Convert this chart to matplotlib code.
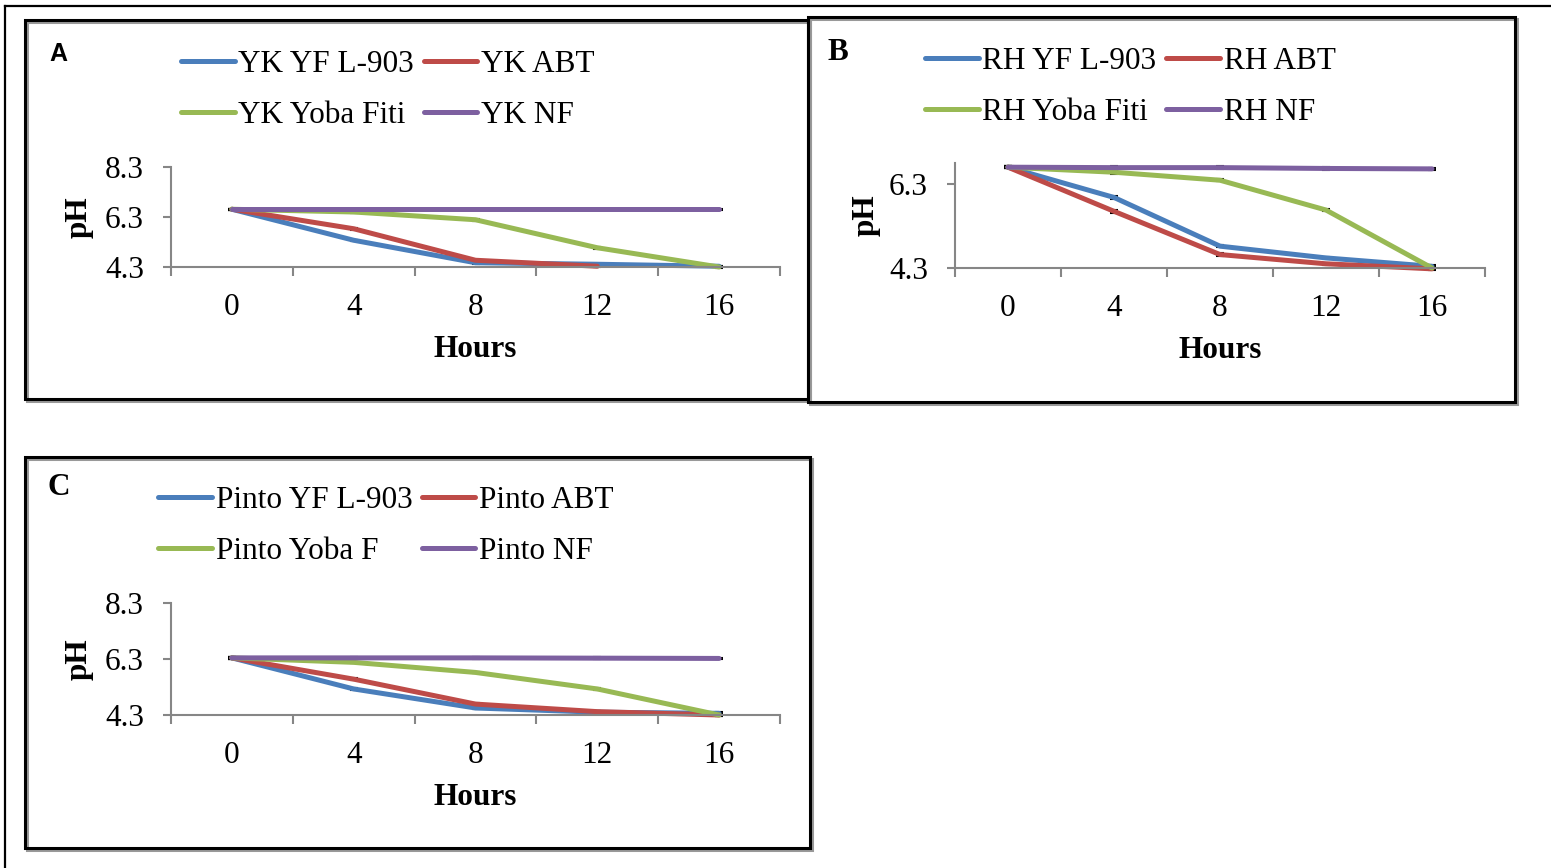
import numpy as np
import matplotlib
matplotlib.use('Agg')
import matplotlib.pyplot as plt
from matplotlib.patches import Rectangle
from matplotlib.lines import Line2D

plt.rcParams['font.family'] = ['Liberation Serif', 'DejaVu Serif']

hours = ['0', '4', '8', '12', '16']
nan = np.nan

# panel A: YK
yk_labels = ['YK YF L-903', 'YK ABT', 'YK Yoba Fiti', 'YK NF']
yk_yf = [6.61, 5.37, 4.47, 4.41, 4.33]
yk_abt = [6.61, 5.83, 4.57, 4.33, nan]
yk_yoba = [6.61, 6.50, 6.19, 5.07, 4.30]
yk_nf = [6.61, 6.61, 6.61, 6.61, 6.61]

# panel B: RH
rh_labels = ['RH YF L-903', 'RH ABT', 'RH Yoba Fiti', 'RH NF']
rh_yf = [6.70, 5.98, 4.82, 4.54, 4.34]
rh_abt = [6.70, 5.65, 4.62, 4.40, 4.28]
rh_yoba = [6.70, 6.58, 6.39, 5.68, 4.30]
rh_nf = [6.70, 6.69, 6.69, 6.67, 6.66]

# panel C: Pinto
pinto_labels = ['Pinto YF L-903', 'Pinto ABT', 'Pinto Yoba F', 'Pinto NF']
pinto_yf = [6.34, 5.23, 4.55, 4.40, 4.36]
pinto_abt = [6.34, 5.58, 4.69, 4.42, 4.30]
pinto_yoba = [6.34, 6.18, 5.82, 5.23, 4.30]
pinto_nf = [6.34, 6.34, 6.34, 6.33, 6.32]

err = 0.03
colors = ['#4A7EBB', '#BE4B48', '#98B954', '#7D60A0']
gray = '#868686'
FS = 22.5

W, H = 1551, 868
fig = plt.figure(figsize=(W / 100, H / 100), dpi=100)


def px_rect(x0, y0, x1, y1):
    # pixel box (top-left origin) -> figure fraction
    return [x0 / W, (H - y1) / H, (x1 - x0) / W, (y1 - y0) / H]


def frame(x0, y0, x1, y1):
    sh = Rectangle(((x0 + 2) / W, (H - y1 - 2) / H), (x1 - x0) / W, (y1 - y0) / H,
                   transform=fig.transFigure, fill=False, ec='#999999', lw=2.2)
    fig.add_artist(sh)
    r = Rectangle((x0 / W, (H - y1) / H), (x1 - x0) / W, (y1 - y0) / H,
                  transform=fig.transFigure, fill=False, ec='black', lw=2.2)
    fig.add_artist(r)


def panel(box, ylim, yticks, series, labels, leg_xy, ylab_x):
    ax = fig.add_axes(px_rect(*box))
    x = np.arange(len(hours))
    handles = []
    for s, c in zip(series, colors):
        ax.errorbar(x, s, yerr=err, fmt='none', ecolor='black', elinewidth=1,
                    capsize=3, capthick=1.5, zorder=1, clip_on=False)
        h, = ax.plot(x, s, color=c, lw=3.6, solid_capstyle='round', zorder=2, clip_on=False)
        handles.append(h)
    ax.set_xlim(-0.5, len(hours) - 0.5)
    ax.set_ylim(*ylim)
    ax.set_yticks(yticks)
    ax.set_yticklabels(['%.1f' % t for t in yticks])
    ax.set_xticks(x)
    ax.set_xticklabels(hours)
    ax.set_xticks(np.arange(-0.5, len(hours), 1), minor=True)
    for o in ['top', 'right']:
        ax.spines[o].set_visible(False)
    for o in ['left', 'bottom']:
        ax.spines[o].set_color(gray)
        ax.spines[o].set_linewidth(1.5)
    ax.tick_params(axis='x', which='major', length=0, pad=19, labelsize=FS)
    ax.tick_params(axis='x', which='minor', length=6.5, width=1.5, color=gray)
    ax.tick_params(axis='y', length=5.5, width=1.5, color=gray, pad=14, labelsize=FS)
    ax.set_xlabel('Hours', fontsize=FS, fontweight='bold', labelpad=9)
    ax.set_ylabel('pH', fontsize=FS, fontweight='bold')
    y0, y1 = box[1], box[3]
    ax.yaxis.set_label_coords(ylab_x / W, 1 - ((y0 + y1) / 2) / H, transform=fig.transFigure)
    # legend fills by column, so order it to read row by row
    order = [0, 2, 1, 3]
    leg = ax.legend([handles[i] for i in order], [labels[i] for i in order], ncol=2,
                    loc='center left', bbox_to_anchor=(leg_xy[0] / W, 1 - leg_xy[1] / H),
                    bbox_transform=fig.transFigure, frameon=False, fontsize=FS,
                    handlelength=1.72, handletextpad=0.12, columnspacing=0.3,
                    labelspacing=0.72, borderpad=0, borderaxespad=0)
    for ln in leg.get_lines():
        ln.set_linewidth(3.6)
    return ax


# outer page border
fig.add_artist(Line2D([5 / W, 1], [1 - 6 / H, 1 - 6 / H], transform=fig.transFigure, color='black', lw=1.6))
fig.add_artist(Line2D([5 / W, 5 / W], [0, 1 - 6 / H], transform=fig.transFigure, color='black', lw=1.6))

frame(25, 20, 808, 399)
frame(808, 17, 1515, 402)
frame(25, 457, 810, 848)

panel((171, 167, 780, 267), (4.3, 8.3), [4.3, 6.3, 8.3],
      [yk_yf, yk_abt, yk_yoba, yk_nf], yk_labels, (181, 90), 94)
panel((955, 163, 1485, 268), (4.3, 6.8), [4.3, 6.3],
      [rh_yf, rh_abt, rh_yoba, rh_nf], rh_labels, (925, 87), 881)
panel((171, 603, 780, 715), (4.3, 8.3), [4.3, 6.3, 8.3],
      [pinto_yf, pinto_abt, pinto_yoba, pinto_nf], pinto_labels, (158, 526), 94)

fig.text(58 / W, 1 - 54 / H, 'A', family='Liberation Sans', fontweight='bold', fontsize=18,
         ha='center', va='center')
fig.text(838 / W, 1 - 52 / H, 'B', fontweight='bold', fontsize=FS, ha='center', va='center')
fig.text(59 / W, 1 - 487 / H, 'C', fontweight='bold', fontsize=FS, ha='center', va='center')

fig.savefig('out.png', dpi=100)
